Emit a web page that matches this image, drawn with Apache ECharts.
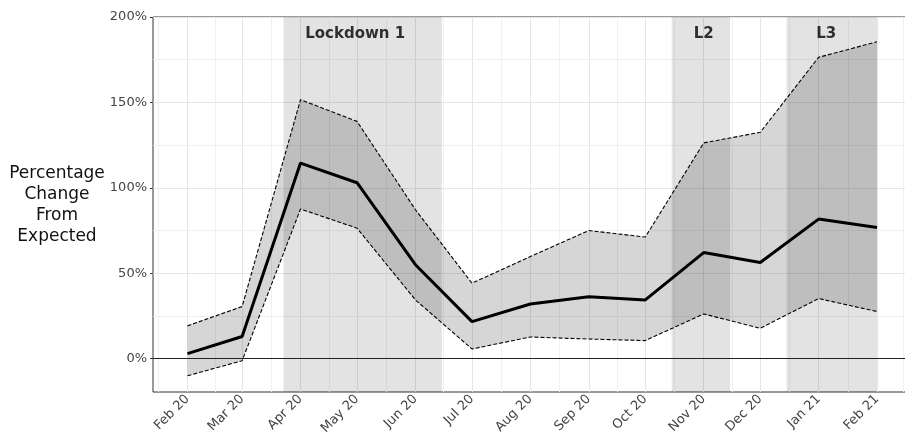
<!DOCTYPE html>
<html>
<head>
<meta charset="utf-8">
<script src="https://cdn.jsdelivr.net/npm/echarts@6.0.0/dist/echarts.min.js"></script>
<style>
  html, body { margin: 0; padding: 0; background: #fff; overflow: hidden; }
  #chart { width: 912px; height: 440px; }
</style>
</head>
<body>
<div id="chart"></div>
<script>
var myChart = echarts.init(document.getElementById('chart'));

function d(s) { return new Date(s + 'T00:00:00Z').getTime(); }

// 月份刻度
var monthDates = ['2020-02-01', '2020-03-01', '2020-04-01', '2020-05-01', '2020-06-01', '2020-07-01',
    '2020-08-01', '2020-09-01', '2020-10-01', '2020-11-01', '2020-12-01', '2021-01-01', '2021-02-01'];
var monthLabels = ['Feb 20', 'Mar 20', 'Apr 20', 'May 20', 'Jun 20', 'Jul 20',
    'Aug 20', 'Sep 20', 'Oct 20', 'Nov 20', 'Dec 20', 'Jan 21', 'Feb 21'];

// 百分比变化 (%)
var meanValues = [3, 13, 114.5, 103, 55, 21.7, 32, 36.3, 34.4, 62.1, 56.3, 81.7, 76.8];
var upperValues = [19.2, 30.5, 151.6, 138.9, 87.2, 44.2, 59.8, 75, 71.2, 126.3, 132.5, 176.4, 185.5];
var lowerValues = [-10, -1.2, 87.6, 76.4, 34.4, 5.7, 12.7, 11.5, 10.6, 26.2, 17.8, 35.2, 27.6];

// 封锁期
var lockdownNames = ['Lockdown 1', 'L2', 'L3'];
var lockdownStart = ['2020-03-23', '2020-10-15', '2020-12-15'];
var lockdownEnd = ['2020-06-15', '2020-11-15', '2021-02-01'];
var lockdownLabelAt = ['2020-04-30', '2020-11-01', '2021-01-05'];
var lockdownLabelY = 189.7;

var yMajor = [0, 50, 100, 150, 200];
var yMinor = [25, 75, 125, 175];

var monthTs = monthDates.map(d);
var day = 86400000;
var pad = 366 * day * 0.05;
var xMin = monthTs[0] - pad;
var xMax = monthTs[monthTs.length - 1] + pad;

// 次网格线: 月份中点
var extMonths = [d('2020-01-01')].concat(monthTs).concat([d('2021-03-01')]);
var xMinor = [];
for (var i = 1; i < extMonths.length; i++) {
    var m = (extMonths[i - 1] + extMonths[i]) / 2;
    if (m > xMin && m < xMax) xMinor.push(m);
}

function pairs(vals) {
    return vals.map(function (v, i) { return [monthTs[i], v]; });
}

var gridLines = []
    .concat(xMinor.map(function (v) { return { xAxis: v, lineStyle: { color: '#f0f0f0' } }; }))
    .concat(monthTs.map(function (v) { return { xAxis: v }; }))
    .concat(yMinor.map(function (v) { return { yAxis: v, lineStyle: { color: '#f0f0f0' } }; }));

var bandRows = monthTs.map(function (t, i) { return [t, lowerValues[i], upperValues[i]]; });

var dash = { color: '#000', width: 1.1, type: [4, 2] };

// 置信区间带 (多边形)
function renderBand(params, api) {
    if (params.dataIndex !== 0) return;
    var top = [], bottom = [];
    for (var i = 0; i < bandRows.length; i++) {
        top.push(api.coord([bandRows[i][0], bandRows[i][2]]));
        bottom.unshift(api.coord([bandRows[i][0], bandRows[i][1]]));
    }
    return {
        type: 'polygon',
        shape: { points: top.concat(bottom) },
        style: { fill: 'rgba(0,0,0,0.16)' },
        silent: true
    };
}

var option = {
    animation: false,
    textStyle: { fontFamily: 'DejaVu Sans' },
    grid: {
        left: 153, top: 17, right: 0.5, bottom: 48,
        show: true, backgroundColor: '#fff', borderColor: '#333', borderWidth: 1
    },
    xAxis: {
        type: 'value',
        min: xMin,
        max: xMax,
        axisLine: { show: false },
        splitLine: { show: false },
        axisTick: { show: true, customValues: monthTs, length: 3, lineStyle: { color: '#333' } },
        axisLabel: {
            customValues: monthTs,
            rotate: 45,
            margin: 5,
            fontSize: 13,
            color: '#444',
            formatter: function (v) {
                var idx = monthTs.indexOf(v);
                return idx >= 0 ? monthLabels[idx] : '';
            }
        }
    },
    yAxis: {
        type: 'value',
        min: -19.5,
        max: 200,
        splitNumber: 5,
        axisLine: { show: false },
        splitLine: { show: true, lineStyle: { color: '#e6e6e6', width: 1 } },
        axisTick: { show: true, customValues: yMajor, length: 3, lineStyle: { color: '#333' } },
        axisLabel: {
            customValues: yMajor,
            margin: 6,
            fontSize: 13,
            color: '#444',
            formatter: function (v) { return v + '%'; }
        }
    },
    graphic: [{
        type: 'text',
        x: 57,
        y: 205.5,
        style: {
            text: 'Percentage\nChange\nFrom\nExpected',
            fill: '#111',
            font: '17px "DejaVu Sans"',
            lineHeight: 21,
            align: 'center',
            verticalAlign: 'middle'
        }
    }],
    series: [
        {
            name: 'grid',
            type: 'line',
            data: [],
            z: 1,
            silent: true,
            markLine: {
                z: 1,
                silent: true,
                symbol: ['none', 'none'],
                label: { show: false },
                lineStyle: { color: '#e6e6e6', width: 1, type: 'solid' },
                data: gridLines
            }
        },
        {
            name: 'lockdown',
            type: 'line',
            data: [],
            z: 2,
            silent: true,
            markArea: {
                z: 2,
                silent: true,
                itemStyle: { color: 'rgba(0,0,0,0.11)' },
                data: lockdownStart.map(function (s, i) {
                    return [{ xAxis: d(s) }, { xAxis: d(lockdownEnd[i]) }];
                })
            }
        },
        {
            name: 'band',
            type: 'custom',
            z: 3,
            silent: true,
            data: bandRows,
            encode: { x: 0, y: [1, 2] },
            renderItem: renderBand
        },
        {
            name: 'lower',
            type: 'line',
            data: pairs(lowerValues),
            symbol: 'none',
            z: 4,
            lineStyle: dash
        },
        {
            name: 'upper',
            type: 'line',
            data: pairs(upperValues),
            symbol: 'none',
            z: 4,
            lineStyle: dash
        },
        {
            name: 'zero',
            type: 'line',
            data: [],
            z: 4,
            markLine: {
                z: 4,
                silent: true,
                symbol: ['none', 'none'],
                label: { show: false },
                lineStyle: { color: '#222', width: 1, type: 'solid' },
                data: [{ yAxis: 0 }]
            }
        },
        {
            name: 'mean',
            type: 'line',
            data: pairs(meanValues),
            symbol: 'none',
            z: 5,
            lineStyle: { color: '#000', width: 3 }
        },
        {
            name: 'labels',
            type: 'scatter',
            symbolSize: 0,
            z: 6,
            data: lockdownNames.map(function (n, i) {
                return { name: n, value: [d(lockdownLabelAt[i]), lockdownLabelY] };
            }),
            label: {
                show: true,
                position: 'inside',
                formatter: '{b}',
                fontSize: 15,
                fontWeight: 'bold',
                color: '#000'
            }
        }
    ]
};

myChart.setOption(option);
</script>
</body>
</html>
